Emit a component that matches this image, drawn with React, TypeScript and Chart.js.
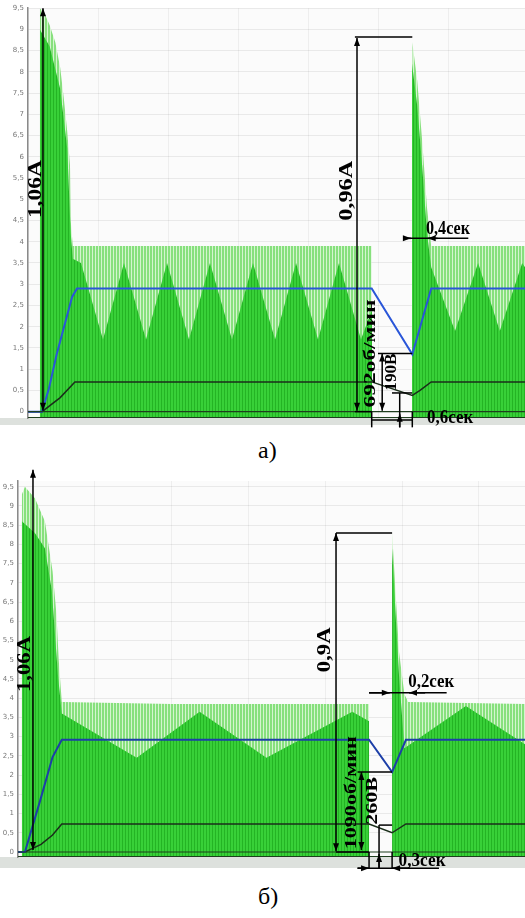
import React, { useEffect, useRef } from "react";
import { Chart, registerables } from "chart.js";
Chart.register(...registerables);

// ---------- shared tick labels ----------
const yTickValues = [0, 0.5, 1, 1.5, 2, 2.5, 3, 3.5, 4, 4.5, 5, 5.5, 6, 6.5, 7, 7.5, 8, 8.5, 9, 9.5];

// ---------- panel а) (time in s) ----------
const aUpperT = [0.17, 0.23, 0.31, 0.39, 0.46, 0.51, 0.56, 0.6, 0.61, 0.64, 2.5, 4.91, 5.2, 5.49, 5.56, 5.63, 5.7, 5.76, 7.1];
const aUpperV = [9.5, 9.4, 9.1, 8.7, 8.1, 7.4, 6.6, 5.8, 4.5, 3.9, 3.9, 3.9, null, 8.7, 7.8, 6.4, 4.8, 3.9, 3.9];
const aLowerT = [0.17, 0.31, 0.46, 0.56, 0.61, 0.64, 0.757, 1.071, 1.371, 1.686, 1.986, 2.3, 2.6, 2.914, 3.214, 3.529, 3.829, 4.143, 4.443, 4.757, 4.914, 5.2, 5.486, 5.56, 5.63, 5.7, 5.76, 6.1, 6.43, 6.74, 7.06, 7.1];
const aLowerV = [9.0, 8.6, 7.6, 6.2, 4.2, 3.6, 3.5, 1.7, 3.5, 1.7, 3.5, 1.7, 3.5, 1.7, 3.5, 1.7, 3.5, 1.7, 3.5, 1.7, 2.4, null, 8.2, 7.2, 5.8, 4.2, 3.4, 1.9, 3.5, 1.9, 3.5, 3.4];
const aSpeedT = [0, 0.2, 0.3, 0.41, 0.63, 0.7, 4.91, 5.49, 5.76, 7.1];
const aSpeedV = [0, 0, 0.55, 1.35, 2.7, 2.9, 2.9, 1.35, 2.9, 2.9];
const aVoltT = [0, 0.2, 0.46, 0.67, 4.91, 5.49, 5.6, 5.76, 7.1];
const aVoltV = [0, 0, 0.33, 0.7, 0.7, 0.38, 0.5, 0.7, 0.7];

// ---------- panel б) (time in s) ----------
const bUpperT = [0.05, 0.09, 0.22, 0.35, 0.45, 0.5, 0.53, 0.57, 2.0, 4.57, 4.7, 4.87, 4.96, 5.03, 5.08, 6.6];
const bUpperV = [9.3, 9.5, 9.2, 8.6, 7.3, 6.2, 5.0, 3.9, 3.85, 3.85, null, 8.3, 5.2, 4.1, 3.9, 3.85];
const bLowerT = [0.05, 0.22, 0.35, 0.44, 0.52, 0.56, 0.57, 1.545, 2.364, 3.234, 4.351, 4.571, 4.7, 4.87, 4.92, 4.96, 5.03, 5.83, 6.6];
const bLowerV = [8.6, 8.3, 7.9, 6.8, 4.6, 3.8, 3.6, 2.45, 3.65, 2.45, 3.65, 3.4, null, 7.9, 6.0, 4.6, 2.7, 3.8, 2.8];
const bSpeedT = [0, 0.09, 0.29, 0.45, 0.57, 4.57, 4.87, 5.05, 6.6];
const bSpeedV = [0, 0, 1.35, 2.47, 2.92, 2.92, 2.08, 2.92, 2.92];
const bVoltT = [0, 0.09, 0.3, 0.45, 0.57, 4.57, 4.87, 5.05, 6.6];
const bVoltV = [0, 0, 0.2, 0.44, 0.73, 0.73, 0.5, 0.73, 0.73];

type Anno =
  | { k: "line" | "arrow" | "arrow2"; x1: number; y1: number; x2: number; y2: number }
  | { k: "text"; x: number; y: number; text: string; len: number; size: number; rot?: boolean };

const annoA: Anno[] = [
  { k: "arrow2", x1: 0.214, y1: 0.02, x2: 0.214, y2: 9.5 },
  { k: "text", x: 0.114, y: 5.24, text: "1,06А", len: 58, size: 19, rot: true },
  { k: "arrow2", x1: 4.7, y1: 0.02, x2: 4.7, y2: 8.8 },
  { k: "line", x1: 4.67, y1: 8.82, x2: 5.49, y2: 8.82 },
  { k: "line", x1: 4.67, y1: 0, x2: 4.91, y2: 0 },
  { k: "text", x: 4.56, y: 5.2, text: "0,96А", len: 60, size: 19, rot: true },
  { k: "line", x1: 5.36, y1: 4.08, x2: 6.29, y2: 4.08 },
  { k: "arrow", x1: 5.36, y1: 4.08, x2: 5.47, y2: 4.08 },
  { k: "arrow", x1: 5.85, y1: 4.08, x2: 5.71, y2: 4.08 },
  { k: "text", x: 6.0, y: 4.3, text: "0,4сек", len: 44, size: 18 },
  { k: "text", x: 4.89, y: 1.37, text: "692об/мин", len: 108, size: 17, rot: true },
  { k: "arrow2", x1: 5.06, y1: 1.37, x2: 5.06, y2: 0.02 },
  { k: "line", x1: 5.0, y1: 1.37, x2: 5.49, y2: 1.37 },
  { k: "text", x: 5.2, y: 0.93, text: "190В", len: 37, size: 17, rot: true },
  { k: "line", x1: 5.2, y1: 0.44, x2: 5.49, y2: 0.44 },
  { k: "line", x1: 5.31, y1: 0.44, x2: 5.31, y2: -0.37 },
  { k: "arrow", x1: 5.31, y1: -0.37, x2: 5.31, y2: -0.05 },
  { k: "line", x1: 4.91, y1: 0, x2: 4.91, y2: -0.37 },
  { k: "line", x1: 5.49, y1: 0, x2: 5.49, y2: -0.37 },
  { k: "line", x1: 4.91, y1: -0.2, x2: 5.49, y2: -0.2 },
  { k: "text", x: 6.03, y: -0.15, text: "0,6сек", len: 46, size: 18 },
];

const annoB: Anno[] = [
  { k: "arrow2", x1: 0.195, y1: 0.05, x2: 0.195, y2: 9.94 },
  { k: "text", x: 0.09, y: 4.89, text: "1,06А", len: 56, size: 19, rot: true },
  { k: "arrow2", x1: 4.14, y1: 0.02, x2: 4.14, y2: 8.3 },
  { k: "line", x1: 4.14, y1: 8.3, x2: 4.87, y2: 8.3 },
  { k: "line", x1: 4.14, y1: 0, x2: 4.57, y2: 0 },
  { k: "text", x: 4.0, y: 5.26, text: "0,9А", len: 45, size: 19, rot: true },
  { k: "line", x1: 4.57, y1: 4.14, x2: 5.58, y2: 4.14 },
  { k: "arrow", x1: 4.57, y1: 4.14, x2: 4.84, y2: 4.14 },
  { k: "arrow", x1: 5.3, y1: 4.14, x2: 5.09, y2: 4.14 },
  { k: "text", x: 5.38, y: 4.4, text: "0,2сек", len: 46, size: 18 },
  { k: "text", x: 4.34, y: 1.54, text: "1090об/мин", len: 113, size: 17, rot: true },
  { k: "arrow2", x1: 4.47, y1: 2.08, x2: 4.47, y2: 0.05 },
  { k: "line", x1: 4.42, y1: 2.08, x2: 4.87, y2: 2.08 },
  { k: "text", x: 4.62, y: 1.33, text: "260В", len: 48, size: 17, rot: true },
  { k: "line", x1: 4.7, y1: 0.7, x2: 4.87, y2: 0.7 },
  { k: "line", x1: 4.7, y1: 0.7, x2: 4.7, y2: -0.42 },
  { k: "arrow", x1: 4.7, y1: -0.42, x2: 4.7, y2: -0.05 },
  { k: "line", x1: 4.57, y1: 0, x2: 4.57, y2: -0.42 },
  { k: "line", x1: 4.87, y1: 0, x2: 4.87, y2: -0.42 },
  { k: "line", x1: 4.42, y1: -0.42, x2: 5.48, y2: -0.42 },
  { k: "arrow", x1: 4.42, y1: -0.42, x2: 4.57, y2: -0.42 },
  { k: "arrow", x1: 5.1, y1: -0.42, x2: 4.87, y2: -0.42 },
  { k: "text", x: 5.26, y: -0.23, text: "0,3сек", len: 47, size: 18 },
];

const pts = (t: number[], v: (number | null)[]) => t.map((x, i) => ({ x, y: v[i] }));

function head(ctx: CanvasRenderingContext2D, xt: number, yt: number, xf: number, yf: number) {
  const a = Math.atan2(yt - yf, xt - xf);
  const L = 8, W = 3;
  ctx.beginPath();
  ctx.moveTo(xt, yt);
  ctx.lineTo(xt - L * Math.cos(a) + W * Math.sin(a), yt - L * Math.sin(a) - W * Math.cos(a));
  ctx.lineTo(xt - L * Math.cos(a) - W * Math.sin(a), yt - L * Math.sin(a) + W * Math.cos(a));
  ctx.closePath();
  ctx.fill();
}

type PanelCfg = {
  top: number; h: number; padTop: number; padBottom: number; axisW: number;
  xMax: number; yMin: number; yMax: number; strip: number;
  upper: any[]; lower: any[]; speed: any[]; volt: any[]; anno: Anno[]; blue: string;
};

function Panel({ cfg }: { cfg: PanelCfg }) {
  const ref = useRef<HTMLCanvasElement>(null);
  useEffect(() => {
    const canvas = ref.current!;
    const c2d = canvas.getContext("2d")!;
    const mk = (base: string, line: string) => {
      const c = document.createElement("canvas");
      c.width = 3; c.height = 4;
      const g = c.getContext("2d")!;
      g.fillStyle = base; g.fillRect(0, 0, 3, 4);
      g.fillStyle = line; g.fillRect(2, 0, 1, 4);
      return c2d.createPattern(c, "repeat")!;
    };
    const lightPat = mk("rgb(135,224,125)", "rgb(212,245,207)");
    const darkPat = mk("rgb(56,208,56)", "rgb(36,180,36)");

    const bg = {
      id: "bg",
      beforeDraw(ch: any) {
        const { ctx, chartArea: a } = ch;
        ctx.save();
        ctx.fillStyle = "#ffffff";
        ctx.fillRect(0, 0, ch.width, ch.height);
        ctx.fillStyle = "#fbfbfb";
        ctx.fillRect(a.left, a.top, a.right - a.left, a.bottom - a.top);
        ctx.fillStyle = "#dde1dd";
        ctx.fillRect(0, a.bottom, ch.width, cfg.strip);
        ctx.restore();
      },
    };
    const anno = {
      id: "anno",
      afterDatasetsDraw(ch: any) {
        const { ctx, chartArea: a } = ch;
        const X = (v: number) => ch.scales.x.getPixelForValue(v);
        const Y = (v: number) => ch.scales.y.getPixelForValue(v);
        ctx.save();
        ctx.strokeStyle = "#1f3f1f";
        ctx.lineWidth = 1.2;
        ctx.beginPath();
        ctx.moveTo(a.left, Y(0)); ctx.lineTo(a.right, Y(0));
        ctx.moveTo(a.left, a.bottom - 0.5); ctx.lineTo(a.right, a.bottom - 0.5);
        ctx.stroke();
        ctx.strokeStyle = "#000";
        ctx.fillStyle = "#000";
        ctx.lineWidth = 1.5;
        for (const n of cfg.anno) {
          if (n.k === "text") {
            ctx.save();
            ctx.translate(X(n.x), Y(n.y));
            if (n.rot) ctx.rotate(-Math.PI / 2);
            ctx.font = `bold ${n.size}px "Liberation Serif"`;
            ctx.textAlign = "center";
            ctx.textBaseline = "middle";
            const w = ctx.measureText(n.text).width;
            ctx.scale(n.len / w, 1);
            ctx.fillText(n.text, 0, 0);
            ctx.restore();
          } else {
            const x1 = X(n.x1), y1 = Y(n.y1), x2 = X(n.x2), y2 = Y(n.y2);
            ctx.beginPath(); ctx.moveTo(x1, y1); ctx.lineTo(x2, y2); ctx.stroke();
            if (n.k === "arrow" || n.k === "arrow2") head(ctx, x2, y2, x1, y1);
            if (n.k === "arrow2") head(ctx, x1, y1, x2, y2);
          }
        }
        ctx.restore();
      },
    };

    const chart = new Chart(canvas, {
      type: "line",
      data: {
        datasets: [
          { data: cfg.speed, borderColor: cfg.blue, borderWidth: 2, pointRadius: 0, fill: false, order: 0 } as any,
          { data: cfg.volt, borderColor: "#1a2e1a", borderWidth: 1.5, pointRadius: 0, fill: false, order: 1 },
          { data: cfg.lower, borderColor: "transparent", borderWidth: 0, pointRadius: 0, fill: "start", backgroundColor: darkPat, spanGaps: false, order: 2 },
          { data: cfg.upper, borderColor: "transparent", borderWidth: 0, pointRadius: 0, fill: "start", backgroundColor: lightPat, spanGaps: false, order: 3 },
        ],
      },
      options: {
        responsive: false,
        animation: false,
        events: [],
        layout: { padding: { top: cfg.padTop, bottom: cfg.padBottom, left: 0, right: 0 } },
        plugins: { legend: { display: false }, tooltip: { enabled: false } },
        elements: { line: { tension: 0 }, point: { radius: 0 } },
        scales: {
          x: {
            type: "linear", min: 0, max: cfg.xMax,
            ticks: { display: false, stepSize: 1 },
            grid: { color: "rgba(0,0,0,0.05)", drawTicks: false },
            border: { display: false },
            afterFit: (s: any) => { s.height = 0; },
          },
          y: {
            type: "linear", min: cfg.yMin, max: cfg.yMax,
            afterBuildTicks: (s: any) => { s.ticks = yTickValues.map((v) => ({ value: v })); },
            afterFit: (s: any) => { s.width = cfg.axisW; },
            ticks: {
              autoSkip: false, padding: 4, color: "#777",
              font: { size: 7, family: "DejaVu Sans" },
              callback: (v: any) => String(v).replace(".", ","),
            },
            grid: { color: (c: any) => (c.tick && c.tick.value === 0 ? "transparent" : "rgba(0,0,0,0.07)"), drawTicks: false },
            border: { color: "#8a8a8a", width: 1.5 },
          },
        },
      } as any,
      plugins: [bg, anno],
    });
    return () => chart.destroy();
  }, []);
  return (
    <canvas
      ref={ref}
      width={525}
      height={cfg.h}
      style={{ position: "absolute", left: 0, top: cfg.top, width: 525, height: cfg.h, display: "block" }}
    />
  );
}

const cfgA: PanelCfg = {
  top: 0, h: 432, padTop: 8, padBottom: 14, axisW: 28, xMax: 7.1, yMin: -0.15, yMax: 9.5, strip: 7,
  upper: pts(aUpperT, aUpperV), lower: pts(aLowerT, aLowerV), speed: pts(aSpeedT, aSpeedV), volt: pts(aVoltT, aVoltV),
  anno: annoA, blue: "#2a56d8",
};
const cfgB: PanelCfg = {
  top: 466, h: 410, padTop: 15, padBottom: 19, axisW: 18, xMax: 6.6, yMin: -0.13, yMax: 9.65, strip: 11,
  upper: pts(bUpperT, bUpperV), lower: pts(bLowerT, bLowerV), speed: pts(bSpeedT, bSpeedV), volt: pts(bVoltT, bVoltV),
  anno: annoB, blue: "#1d3fa8",
};

export default function App() {
  return (
    <div style={{ position: "absolute", left: 0, top: 0, width: 525, height: 918, background: "#fff", overflow: "hidden" }}>
      <Panel cfg={cfgA} />
      <div style={{ position: "absolute", left: 258, top: 436, font: '24px "Liberation Serif"', lineHeight: "28px", color: "#000" }}>а)</div>
      <div style={{ position: "absolute", left: 0, top: 468, width: 525, height: 1, background: "#e2e2e2" }} />
      <Panel cfg={cfgB} />
      <div style={{ position: "absolute", left: 258, top: 882, font: '24px "Liberation Serif"', lineHeight: "28px", color: "#000" }}>б)</div>
    </div>
  );
}
